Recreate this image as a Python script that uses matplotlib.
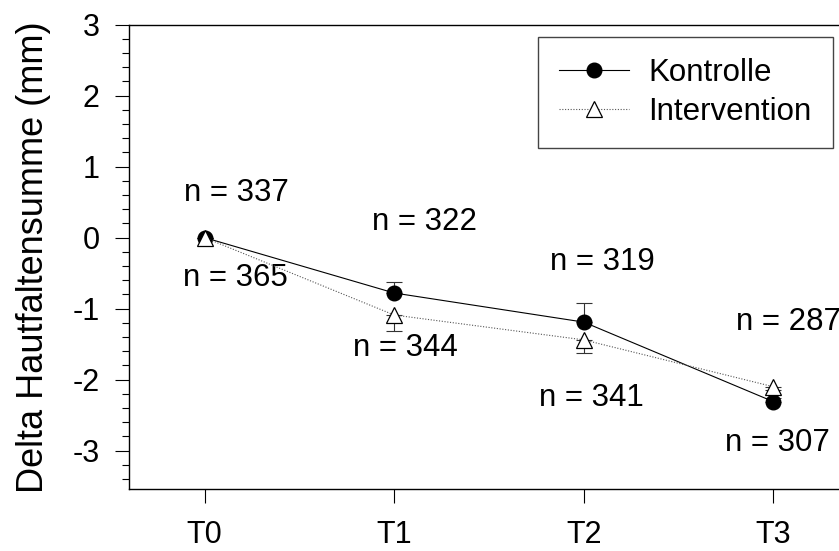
import matplotlib
matplotlib.use("Agg")
import matplotlib.pyplot as plt
import numpy as np

plt.rcParams['font.family'] = ['Liberation Sans', 'DejaVu Sans']
plt.rcParams['axes.unicode_minus'] = False

# Messzeitpunkte
zeitpunkte = ["T0", "T1", "T2", "T3"]
x = np.arange(len(zeitpunkte))

# Mittelwerte Delta Hautfaltensumme (mm)
kontrolle = [0.0, -0.78, -1.19, -2.31]
intervention = [0.0, -1.09, -1.44, -2.10]

# Standardfehler (nur eine Richtung gezeichnet)
kontrolle_err = [0.0, 0.16, 0.27, 0.05]
intervention_err = [0.0, 0.22, 0.19, 0.05]

# Fallzahlen
n_kontrolle = [337, 322, 319, 287]
n_intervention = [365, 344, 341, 307]
n_kontrolle_pos = [(0.17, 0.63), (1.16, 0.22), (2.10, -0.34), (3.08, -1.19)]
n_intervention_pos = [(0.16, -0.57), (1.06, -1.55), (2.04, -2.26), (3.02, -2.89)]

fs = 22.5

fig = plt.figure(figsize=(8.39, 5.51), dpi=100)
ax = fig.add_axes([0.1534, 0.1125, 1 - 0.1534, 0.9555 - 0.1125])

ax.errorbar(x, kontrolle, yerr=[np.zeros(4), kontrolle_err], fmt='none',
            ecolor='#333333', elinewidth=0.8, capsize=5.5, capthick=0.8, zorder=2)
ax.errorbar(x, intervention, yerr=[intervention_err, np.zeros(4)], fmt='none',
            ecolor='#333333', elinewidth=0.8, capsize=5.5, capthick=0.8, zorder=2)

ax.plot(x, kontrolle, color='black', lw=0.8, marker='o', markersize=10.5,
        markerfacecolor='black', markeredgecolor='black', label='Kontrolle', zorder=3)
ax.plot(x, intervention, color='#555555', lw=0.8, linestyle=(0, (1, 1.5)),
        marker='^', markersize=12, markerfacecolor='white', markeredgecolor='black',
        markeredgewidth=0.9, label='Intervention', zorder=4)

for n, (px, py) in zip(n_kontrolle, n_kontrolle_pos):
    ax.text(px, py, f"n = {n}", fontsize=fs, ha='center', va='center', clip_on=False)
for n, (px, py) in zip(n_intervention, n_intervention_pos):
    ax.text(px, py, f"n = {n}", fontsize=fs, ha='center', va='center')

ax.set_xlim(-0.4, 3.346)
ax.set_ylim(-3.54, 3.0)
ax.set_xticks(x)
ax.set_xticklabels(zeitpunkte)
ax.set_yticks(np.arange(-3, 4, 1))
ax.set_yticks(np.arange(-3.4, 3.0, 0.2), minor=True)
ax.tick_params(axis='both', which='major', direction='out', length=10, width=0.8,
               labelsize=22)
ax.tick_params(axis='y', which='major', pad=11)
ax.tick_params(axis='y', which='minor', direction='out', length=5, width=0.8)
ax.tick_params(axis='x', which='major', pad=12)
ax.spines['right'].set_visible(False)
for s in ['left', 'top', 'bottom']:
    ax.spines[s].set_linewidth(1.0)

ax.set_ylabel("Delta Hautfaltensumme (mm)", fontsize=26)
ax.yaxis.set_label_coords(-0.11, 0.5)

leg = ax.legend(loc='upper left', bbox_to_anchor=(0.576, 0.973), borderaxespad=0,
                fontsize=fs, handlelength=2.25, handletextpad=0.6, labelspacing=0.28,
                borderpad=0.68, fancybox=False, framealpha=1, edgecolor='#444444')
leg.get_frame().set_linewidth(1.0)

fig.savefig("out.png", dpi=100)
